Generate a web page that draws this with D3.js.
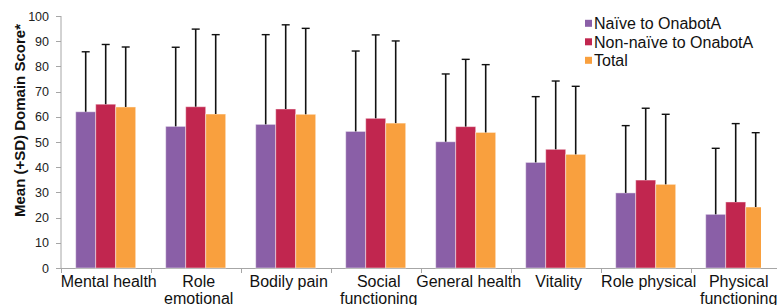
<!DOCTYPE html>
<html><head><meta charset="utf-8">
<script src="https://cdn.jsdelivr.net/npm/d3@7"></script>
<style>body{margin:0;background:#fff}svg{display:block;font-family:"Liberation Sans",Arial,sans-serif}</style>
</head><body><svg id="c" width="777" height="305"></svg>
<script>
const categories = [["Mental health"],["Role","emotional"],["Bodily pain"],["Social","functioning"],["General health"],["Vitality"],["Role physical"],["Physical","functioning"]];
const seriesNames = ["Naïve to OnabotA","Non-naïve to OnabotA","Total"];
const naiveMean = [62, 56.2, 57, 54.2, 50.1, 41.9, 29.8, 21.3];
const naiveSD = [23.8, 31.4, 35.6, 31.9, 26.9, 26.1, 26.7, 26.2];
const nonNaiveMean = [65, 64, 63.1, 59.4, 56.1, 47.1, 34.9, 26.2];
const nonNaiveSD = [23.7, 30.8, 33.4, 33.1, 26.7, 27.1, 28.5, 31.1];
const totalMean = [63.9, 61.1, 61, 57.5, 53.8, 45.1, 33.2, 24.2];
const totalSD = [23.8, 31.5, 34.1, 32.6, 26.9, 27, 27.8, 29.5];
const yTicks = [0,10,20,30,40,50,60,70,80,90,100];
const colors = ["#8a5fa7","#c1264f","#f9a03e"];

(function(){
const means = [naiveMean, nonNaiveMean, totalMean];
const sds = [naiveSD, nonNaiveSD, totalSD];
const svg = d3.select("#c");
const pLeft = 61, pTop = 16, pBottom = 268;
const x = d3.scaleBand().domain(d3.range(categories.length)).range([60.7, 780.7]).padding(0);
const xs = d3.scaleBand().domain(d3.range(3)).range([15, 75]).padding(0);
const y = d3.scaleLinear().domain([0,100]).range([pBottom, pTop]);

svg.append("defs").append("clipPath").attr("id","clip").append("rect")
  .attr("x", pLeft).attr("y", 0).attr("width", 761-pLeft).attr("height", 305);

const axColor = "#a6a6a6";
svg.append("line").attr("x1",pLeft).attr("x2",pLeft).attr("y1",pTop).attr("y2",pBottom).attr("stroke",axColor);
svg.append("line").attr("x1",pLeft).attr("x2",777).attr("y1",pBottom+0.5).attr("y2",pBottom+0.5).attr("stroke",axColor);
yTicks.forEach(t=>{
  svg.append("line").attr("x1",pLeft-5).attr("x2",pLeft).attr("y1",Math.round(y(t))+0.5).attr("y2",Math.round(y(t))+0.5).attr("stroke",axColor);
  svg.append("text").attr("x",49).attr("y",y(t)).attr("dy","0.36em").attr("text-anchor","end")
    .attr("font-size",12.5).attr("fill","#222").text(t);
});
d3.range(categories.length).forEach(i=>{
  const bx = Math.round(x(i))+0.5;
  svg.append("line").attr("x1",bx).attr("x2",bx).attr("y1",pBottom).attr("y2",pBottom+5).attr("stroke",axColor);
});

const g = svg.append("g").attr("clip-path","url(#clip)");
means.forEach((arr, s)=>{
  g.selectAll(".b"+s).data(arr).enter().append("rect")
    .attr("x",(d,i)=>x(i)+xs(s)).attr("width",xs.bandwidth())
    .attr("y",d=>y(d)).attr("height",d=>pBottom-y(d))
    .attr("fill",colors[s]).attr("stroke","rgba(255,255,255,0.45)").attr("stroke-width",1);
});
means.forEach((arr, s)=>{
  arr.forEach((d,i)=>{
    const cx = x(i)+xs(s)+xs.bandwidth()/2;
    const t = y(d + sds[s][i]);
    g.append("line").attr("x1",cx).attr("x2",cx).attr("y1",y(d)).attr("y2",t).attr("stroke","#111").attr("stroke-width",1.6);
    g.append("line").attr("x1",cx-4).attr("x2",cx+4).attr("y1",t).attr("y2",t).attr("stroke","#111").attr("stroke-width",1.4);
  });
});

categories.forEach((lines,i)=>{
  const t = svg.append("text").attr("text-anchor","middle").attr("font-size",16).attr("fill","#111");
  lines.forEach((ln,k)=>{
    t.append("tspan").attr("x",x(i)+x.bandwidth()/2+3).attr("y",287+k*16.5).text(ln);
  });
});

svg.append("text").attr("transform","translate(25,120.5) rotate(-90)").attr("text-anchor","middle")
  .attr("font-size",15).attr("font-weight","bold").attr("fill","#111").text("Mean (+SD) Domain Score*");

seriesNames.forEach((n,s)=>{
  const cy = 23.3 + s*18.5;
  svg.append("rect").attr("x",585).attr("y",cy-3.5).attr("width",7).attr("height",7).attr("fill",colors[s]);
  svg.append("text").attr("x",594).attr("y",cy).attr("dy","0.36em").attr("font-size",16).attr("fill","#111").text(n);
});
})();
</script></body></html>
